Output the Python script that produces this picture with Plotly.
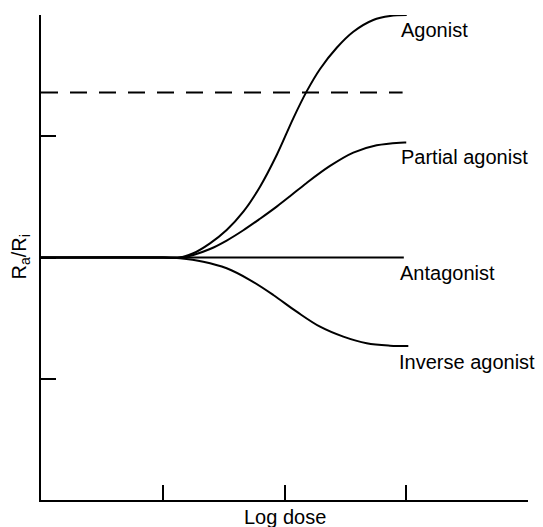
import plotly.graph_objects as go

# Data (log dose units, Ra/Ri in axis units)
agonist_x = [0, 1.0, 1.142, 1.251, 1.388, 1.525, 1.662, 1.799, 1.936, 2.072, 2.182,
             2.292, 2.429, 2.565, 2.729, 2.867, 3.004]
agonist_y = [2, 2, 2.0, 2.035, 2.117, 2.227, 2.378, 2.584, 2.845, 3.148, 3.37,
             3.555, 3.73, 3.862, 3.959, 3.992, 4.0]

partial_x = [0, 1.0, 1.142, 1.251, 1.388, 1.525, 1.662, 1.799, 1.936, 2.045, 2.182,
             2.374, 2.565, 2.757, 2.949, 3.0]
partial_y = [2, 2, 2.0, 2.021, 2.070, 2.140, 2.225, 2.320, 2.420, 2.505, 2.615,
             2.755, 2.865, 2.925, 2.947, 2.948]

antagonist_x = [0, 2.98]
antagonist_y = [2, 2]

inverse_x = [0, 1.0, 1.142, 1.333, 1.525, 1.717, 1.908, 2.100, 2.292, 2.483, 2.675,
             2.867, 3.017]
inverse_y = [2, 2, 1.993, 1.965, 1.911, 1.814, 1.691, 1.553, 1.429, 1.347, 1.292,
             1.273, 1.270]

max_x = [0, 2.97]
max_y = [3.36, 3.36]

labels = ["Agonist", "Partial agonist", "Antagonist", "Inverse agonist"]
label_x = [2.94, 2.94, 2.93, 2.92]
label_y = [3.88, 2.83, 1.87, 1.14]

tick_vals = [1, 2, 3, 4]

fig = go.Figure()
fig.add_trace(go.Scatter(x=max_x, y=max_y, mode="lines",
                         line=dict(color="black", width=2, dash="17px,12px")))
for xs, ys in [(agonist_x, agonist_y), (partial_x, partial_y),
               (antagonist_x, antagonist_y), (inverse_x, inverse_y)]:
    fig.add_trace(go.Scatter(x=xs, y=ys, mode="lines",
                             line=dict(color="black", width=2, shape="spline", smoothing=1.0),
                             cliponaxis=False))

for t, lx, ly in zip(labels, label_x, label_y):
    fig.add_annotation(x=lx, y=ly, text=t, showarrow=False, xanchor="left",
                       yanchor="middle", font=dict(size=20, color="black"))

fig.add_annotation(xref="paper", yref="paper", x=-0.043, y=0.5,
                   text="R<sub>a</sub>/R<sub>i</sub>", textangle=-90, showarrow=False,
                   xanchor="center", yanchor="middle", font=dict(size=20, color="black"))
fig.add_annotation(xref="paper", yref="paper", x=0.5, y=0, yshift=-17,
                   text="Log dose", showarrow=False, xanchor="center", yanchor="middle",
                   font=dict(size=20, color="black"))

axis_common = dict(showgrid=False, zeroline=False, showline=True, linecolor="black",
                   linewidth=2, ticks="inside", ticklen=15, tickwidth=2, tickcolor="black",
                   showticklabels=False, range=[0, 4], tickvals=tick_vals)
fig.update_xaxes(**axis_common)
fig.update_yaxes(**axis_common)

fig.update_layout(width=535, height=519, showlegend=False,
                  margin=dict(l=33, r=15, t=7, b=27),
                  plot_bgcolor="white", paper_bgcolor="white",
                  font=dict(family="Liberation Sans, Arial, sans-serif", color="black"))

fig.write_html("out.html")
